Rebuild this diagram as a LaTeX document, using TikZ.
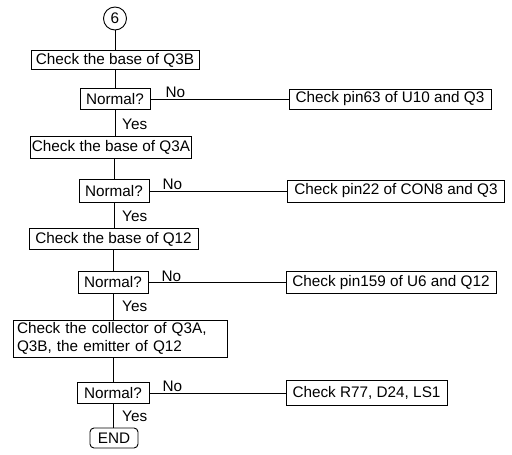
\documentclass[tikz,border=0pt]{standalone}
\usepackage{fontspec}
\setmainfont{Liberation Sans}
\begin{document}
\begin{tikzpicture}[x=1pt,y=-1pt,
  every node/.style={font=\fontsize{15.3}{18}\selectfont},
  box/.style={draw, line width=0.9pt, inner sep=1pt, minimum height=20pt, align=left},
  lbl/.style={inner sep=0pt},
  conn/.style={line width=0.9pt}]
\useasboundingbox (0,0) rectangle (512,455);
\node[draw, circle, line width=0.9pt, minimum size=23pt, inner sep=0pt] (c6) at (115,18.5) {6};
\node[box, minimum width=168pt, minimum height=19pt] (b1) at (115,60) {Check the base of Q3B};
\node[box, minimum width=70pt, minimum height=21pt] (d1) at (115,99) {Normal?};
\node[box, minimum width=202pt] (r1) at (390,99) {Check pin63 of U10 and Q3};
\node[box, minimum width=160pt, minimum height=22pt] (b2) at (111,147) {Check the base of Q3A};
\node[box, minimum width=70pt, minimum height=23pt] (d2) at (114,191) {Normal?};
\node[box, minimum width=217pt, minimum height=22pt] (r2) at (396,191) {Check pin22 of CON8 and Q3};
\node[box, minimum width=169pt, minimum height=21pt] (b3) at (113.5,239) {Check the base of Q12};
\node[box, minimum width=70pt, minimum height=22pt] (d3) at (113,282.5) {Normal?};
\node[box, minimum width=210pt, minimum height=22pt] (r3) at (391,282.5) {Check pin159 of U6 and Q12};
\node[box, minimum width=214pt, minimum height=37pt, inner xsep=4pt, text width=206pt] (b4) at (120,338.5) {Check the collector of Q3A,\\Q3B, the emitter of Q12};
\node[box, minimum width=72pt, minimum height=21pt] (d4) at (113,393) {Normal?};
\node[box, minimum width=161pt, minimum height=25pt] (r4) at (366.5,393) {Check R77, D24, LS1};
\node[box, rounded corners=4pt, minimum width=48pt] (e) at (114,438) {END};
% connectors
\draw[conn] (c6.south) -- (c6.south |- b1.north);
\draw[conn] (b1.south -| c6.south) -- (c6.south |- d1.north);
\draw[conn] (d1.south) -- (d1.south |- b2.north);
\draw[conn] (b2.south -| d2.north) -- (d2.north);
\draw[conn] (d2.south) -- (d2.south |- b3.north);
\draw[conn] (b3.south -| d3.north) -- (d3.north);
\draw[conn] (d3.south) -- (d3.south |- b4.north);
\draw[conn] (b4.south -| d4.north) -- (d4.north);
\draw[conn] (d4.south) -- (d4.south |- e.north);
\draw[conn] (d1.east) -- (r1.west);
\draw[conn] (d2.east) -- (r2.west);
\draw[conn] (d3.east) -- (r3.west);
\draw[conn] (d4.east) -- (r4.west);
% labels
\node[lbl, anchor=south west] (n1) at ([xshift=15pt,yshift=1pt]d1.east) {No};
\node[lbl, anchor=south west] (n2) at ([xshift=13pt,yshift=1pt]d2.east) {No};
\node[lbl, anchor=south west] (n3) at ([xshift=13pt,yshift=1pt]d3.east) {No};
\node[lbl, anchor=south west] (n4) at ([xshift=13pt,yshift=1pt]d4.east) {No};
\node[lbl, anchor=west] (y1) at (122,124) {Yes};
\node[lbl, anchor=west] (y2) at (122,216) {Yes};
\node[lbl, anchor=west] (y3) at (122,306) {Yes};
\node[lbl, anchor=west] (y4) at (122,416) {Yes};
\end{tikzpicture}
\end{document}
